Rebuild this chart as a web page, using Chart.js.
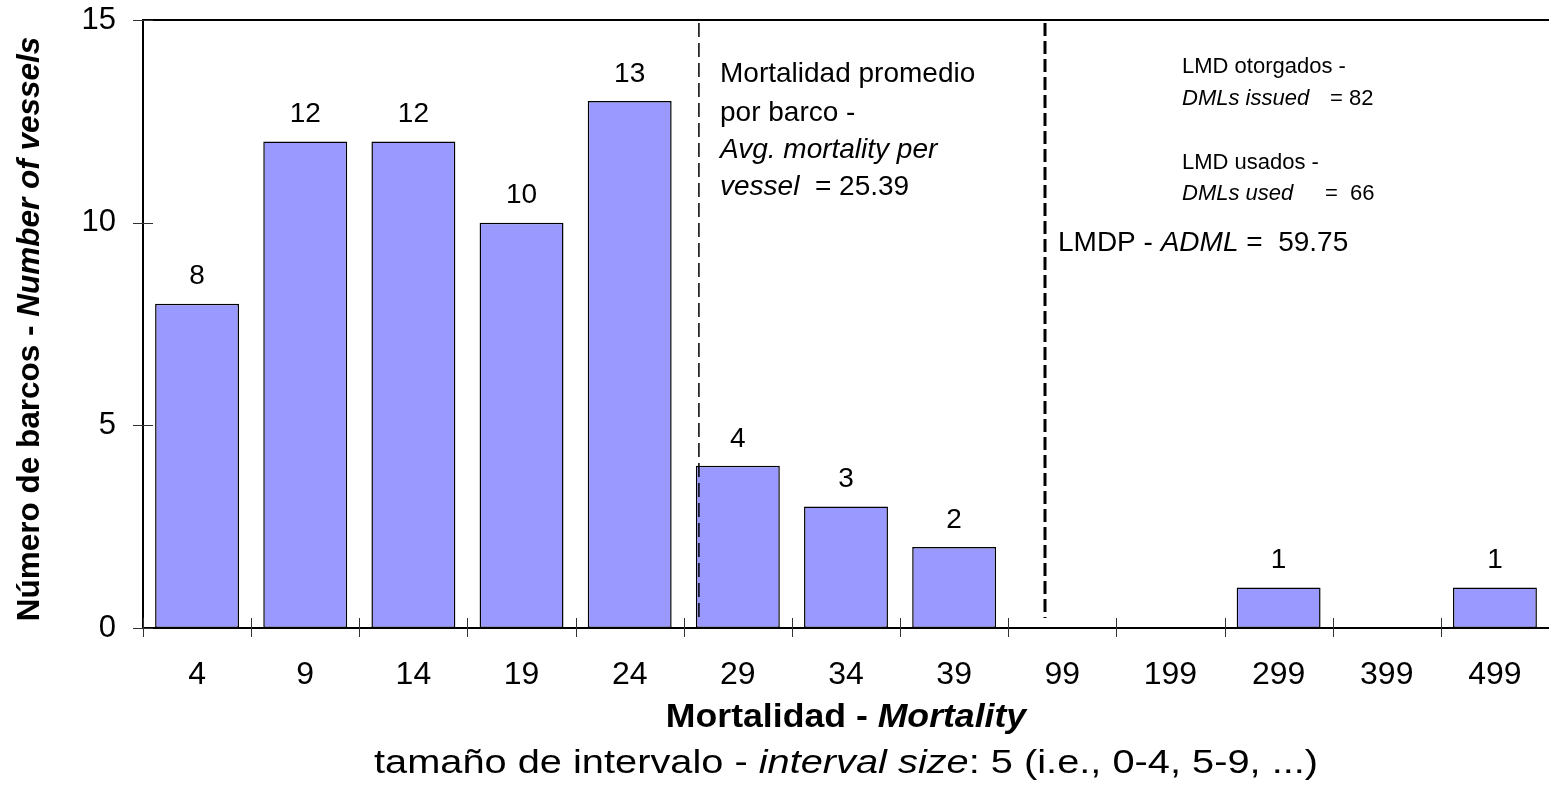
<!DOCTYPE html>
<html lang="es">
<head>
<meta charset="utf-8">
<title>Mortalidad por barco</title>
<script src="https://cdn.jsdelivr.net/npm/chart.js@4.4.1/dist/chart.umd.min.js"></script>
<style>
  html, body { margin: 0; padding: 0; background: #fff; overflow: hidden; }
  #grafico { display: block; }
</style>
</head>
<body>
<canvas id="grafico" width="1549" height="787"></canvas>
<script>
// --- DATOS ---
const categorias = ['4', '9', '14', '19', '24', '29', '34', '39', '99', '199', '299', '399', '499'];
const numeroBarcos = [8, 12, 12, 10, 13, 4, 3, 2, 0, 0, 1, 0, 1];
const ticksY = [0, 5, 10, 15];

// lineas de referencia: posicion en el eje de categorias (indice fraccionario)
const lineaPromedio = 4.64;   // mortalidad promedio = 25.39
const lineaADML = 7.84;       // LMDP - ADML = 59.75

const FUENTE = '"Liberation Sans", Arial, sans-serif';

function fuente(tam, estilo) {
    return `${estilo || ''} ${tam}px ${FUENTE}`;
}

// dibuja un texto con partes de estilo distinto (normal / italic / bold)
// escala > 1 estira el texto en horizontal (como en el original)
function textoMixto(ctx, partes, x, y, alinear, escala) {
    const sx = escala || 1;
    let ancho = 0;
    partes.forEach(p => {
        ctx.font = p.f;
        ancho += ctx.measureText(p.t).width;
    });
    ctx.save();
    ctx.translate(x, y);
    ctx.scale(sx, 1);
    let cx = alinear === 'center' ? -ancho / 2 : 0;
    ctx.textAlign = 'left';
    ctx.textBaseline = 'middle';
    partes.forEach(p => {
        ctx.font = p.f;
        ctx.fillText(p.t, cx, 0);
        cx += ctx.measureText(p.t).width;
    });
    ctx.restore();
}

// --- PLUGIN: marcas, lineas tracejadas y textos ---
const pluginExtras = {
    id: 'extras',
    afterDatasetsDraw(chart) {
        const ctx = chart.ctx;
        const area = chart.chartArea;
        const x = chart.scales.x;
        const y = chart.scales.y;
        ctx.save();

        // borde superior
        ctx.strokeStyle = '#000';
        ctx.lineWidth = 2;
        ctx.beginPath();
        ctx.moveTo(area.left, area.top);
        ctx.lineTo(area.right, area.top);
        ctx.stroke();

        // marcas del eje Y (cruzan el eje)
        ctx.strokeStyle = '#333';
        ctx.lineWidth = 1;
        ticksY.forEach(v => {
            const py = Math.round(y.getPixelForValue(v)) + 0.5;
            ctx.beginPath();
            ctx.moveTo(area.left - 10, py);
            ctx.lineTo(area.left + 10, py);
            ctx.stroke();
        });

        // marcas del eje X entre categorias
        for (let i = 0; i <= categorias.length; i++) {
            const px = Math.round(x.getPixelForValue(i - 0.5)) + 0.5;
            ctx.beginPath();
            ctx.moveTo(px, area.bottom - 10);
            ctx.lineTo(px, area.bottom + 9);
            ctx.stroke();
        }

        // linea del promedio (fina)
        ctx.strokeStyle = '#000';
        ctx.lineWidth = 1.5;
        ctx.setLineDash([14, 6]);
        let px = x.getPixelForValue(lineaPromedio);
        ctx.beginPath();
        ctx.moveTo(px, area.top + 3);
        ctx.lineTo(px, area.bottom - 10);
        ctx.stroke();

        // linea ADML (gruesa)
        ctx.lineWidth = 3;
        ctx.setLineDash([13, 5]);
        px = x.getPixelForValue(lineaADML);
        ctx.beginPath();
        ctx.moveTo(px, area.top + 3);
        ctx.lineTo(px, area.bottom - 10);
        ctx.stroke();
        ctx.setLineDash([]);

        // valores encima de las barras
        const meta = chart.getDatasetMeta(0);
        ctx.fillStyle = '#000';
        ctx.font = fuente(28);
        ctx.textAlign = 'center';
        ctx.textBaseline = 'middle';
        meta.data.forEach((barra, i) => {
            if (numeroBarcos[i] > 0) ctx.fillText(String(numeroBarcos[i]), barra.x, barra.y - 27);
        });

        ctx.restore();
    },
    afterDraw(chart) {
        const ctx = chart.ctx;
        const area = chart.chartArea;
        const n = fuente(28), it = fuente(28, 'italic');
        const ns = fuente(22), is = fuente(22, 'italic');
        ctx.save();
        ctx.fillStyle = '#000';

        // bloque del promedio
        textoMixto(ctx, [{ t: 'Mortalidad promedio', f: n }], 720, 74);
        textoMixto(ctx, [{ t: 'por barco -', f: n }], 720, 113);
        textoMixto(ctx, [{ t: 'Avg. mortality per', f: it }], 720, 150);
        textoMixto(ctx, [{ t: 'vessel', f: it }, { t: '  = 25.39', f: n }], 720, 187);

        // bloque LMD
        textoMixto(ctx, [{ t: 'LMD otorgados -', f: ns }], 1182, 67);
        textoMixto(ctx, [{ t: 'DMLs issued', f: is }], 1182, 99);
        textoMixto(ctx, [{ t: '= 82', f: ns }], 1330, 99);
        textoMixto(ctx, [{ t: 'LMD usados -', f: ns }], 1182, 163);
        textoMixto(ctx, [{ t: 'DMLs used', f: is }], 1182, 194);
        textoMixto(ctx, [{ t: '=  66', f: ns }], 1325, 194);
        textoMixto(ctx, [{ t: 'LMDP - ', f: n }, { t: 'ADML', f: it }, { t: ' =  59.75', f: n }], 1058, 243);

        // titulos de los ejes
        const cx = (area.left + area.right) / 2;
        textoMixto(ctx, [{ t: 'Mortalidad - ', f: fuente(33, 'bold') }, { t: 'Mortality', f: fuente(33, 'italic bold') }], cx, 718, 'center', 1.08);
        textoMixto(ctx, [
            { t: 'tamaño de intervalo - ', f: fuente(34) },
            { t: 'interval size', f: fuente(34, 'italic') },
            { t: ': 5 (i.e., 0-4, 5-9, ...)', f: fuente(34) }
        ], cx, 764, 'center', 1.17);

        ctx.translate(30, (area.top + area.bottom) / 2 + 5);
        ctx.rotate(-Math.PI / 2);
        textoMixto(ctx, [{ t: 'Número de barcos - ', f: fuente(31.5, 'bold') }, { t: 'Number of vessels', f: fuente(31.5, 'italic bold') }], 0, 0, 'center');
        ctx.restore();
    }
};

// --- GRAFICO ---
function crearGrafico() {
    new Chart(document.getElementById('grafico'), {
        type: 'bar',
        data: {
            labels: categorias,
            datasets: [{
                data: numeroBarcos,
                backgroundColor: '#9999FF',
                borderColor: '#000',
                borderWidth: c => (c.raw > 0 ? 1.5 : 0),
                borderSkipped: false,
                barPercentage: 0.776,
                categoryPercentage: 1
            }]
        },
        options: {
            responsive: false,
            animation: false,
            layout: { padding: { top: 20, right: 0, bottom: 0, left: 0 } },
            plugins: { legend: { display: false }, tooltip: { enabled: false } },
            scales: {
                x: {
                    grid: { display: false, drawTicks: false },
                    border: { display: true, color: '#000', width: 2 },
                    ticks: { color: '#000', font: { family: FUENTE, size: 32 }, padding: 28, maxRotation: 0, autoSkip: false },
                    afterFit: s => { s.height = 159; s.paddingLeft = 0; s.paddingRight = 0; }
                },
                y: {
                    min: 0,
                    max: 15,
                    grid: { display: false, drawTicks: false },
                    border: { display: true, color: '#000', width: 2 },
                    ticks: { stepSize: 5, color: '#000', font: { family: FUENTE, size: 31 }, padding: 27 },
                    afterFit: s => { s.width = 143; s.paddingTop = 0; s.paddingBottom = 0; }
                }
            }
        },
        plugins: [pluginExtras]
    });
}

document.addEventListener('DOMContentLoaded', crearGrafico);
</script>
</body>
</html>
